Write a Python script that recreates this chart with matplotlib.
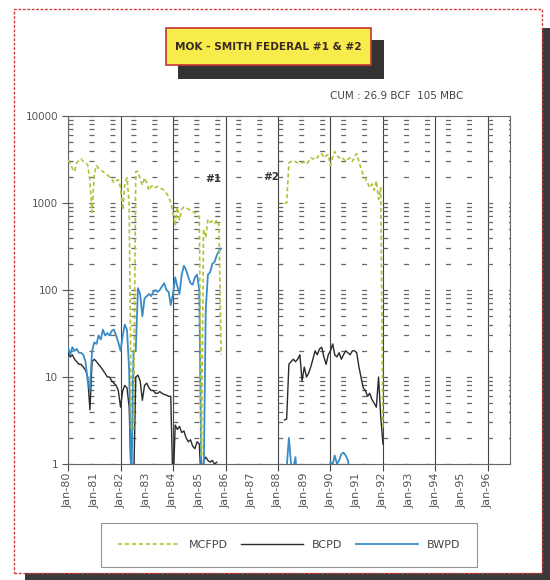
import numpy as np
import pandas as pd
import matplotlib
matplotlib.use("Agg")
import matplotlib.pyplot as plt
import matplotlib.dates as mdates
from matplotlib.patches import Rectangle
from matplotlib.ticker import LogLocator, FixedFormatter, FixedLocator, NullFormatter
import datetime as dt

plt.rcParams['font.family'] = ['DejaVu Sans']
plt.rcParams['lines.scale_dashes'] = False

# ---------------- data ----------------
well1_start = '1980-01-01'
mcfpd_1 = [3100, 2900, 2500, 2300, 2900, 3100, 3200, 3000, 2900, 2750,
           1800, 780, 2200, 2700, 2500, 2400, 2300, 2200, 2100, 2000,
           1900, 1700, 1800, 1850, 1500, 830, 1700, 1950, 1000, 2.5,
           2.5, 2300, 2300, 1900, 1600, 1950, 1700, 1400, 1550, 1600,
           1500, 1550, 1500, 1450, 1400, 1300, 1180, 1000, 770, 550,
           900, 640, 850, 900, 880, 850, 830, 800, 770, 720,
           700, 1.2, 500, 400, 650, 600, 620, 580, 640, 560, 18]
bcpd_1 = [19, 17, 18, 16, 15, 14, 14, 13, 12, 10,
          4.2, 15, 16, 15, 14, 13, 12, 11, 10, 10,
          9, 8.5, 8, 7, 4.5, 7, 8, 7.5, 4.5, 0.5,
          0.5, 10, 10.5, 9, 5.4, 8, 8.5, 7.5, 7, 7,
          6.5, 6.5, 6.8, 6.5, 6.3, 6.2, 6.0, 6.0, 0.5, 2.8,
          2.5, 2.7, 2.3, 2.4, 2.0, 1.8, 1.9, 1.6, 1.5, 1.8,
          1.7, 0.5, 1.1, 1.2, 1.1, 1.05, 1.1, 1.0, 1.05]
bwpd_1 = [22, 18, 22, 20, 21, 19, 19, 18, 15, 9,
          7, 20, 25, 24, 30, 27, 35, 30, 32, 30,
          34, 35, 30, 25, 20, 30, 40, 35, 12, 0.5,
          20, 20, 105, 90, 50, 80, 85, 90, 85, 95,
          100, 95, 100, 110, 120, 100, 95, 67, 90, 140,
          110, 90, 150, 190, 170, 140, 120, 115, 140, 150,
          100, 0.5, 0.5, 60, 150, 160, 200, 210, 250, 280, 300]

well2_start = '1988-04-01'
mcfpd_2 = [1000, 1000, 2900, 3000, 2950, 3000, 2900, 2950, 2900, 2950,
           2800, 3000, 3300, 3200, 3400, 3300, 3600, 3700, 3300, 3500,
           3600, 2700, 3400, 3900, 3500, 3300, 3400, 3200, 3000, 3200,
           3300, 3000, 3400, 3700, 3000, 2500, 2100, 1900, 1700, 1500,
           1650, 1400, 1800, 1100, 1500, 2.5]
bcpd_2 = [3.2, 3.3, 14, 15, 16, 15, 16, 18, 9, 13,
          10, 11, 13, 16, 20, 18, 21, 22, 17, 14,
          18, 20, 24, 18, 17, 19, 16, 18, 20, 19,
          18, 20, 20, 19, 13, 10, 7.5, 7, 6, 6.5,
          5.5, 5, 4.5, 10, 3.5, 1.7]
bwpd_2 = [0.5, 0.9, 2.0, 1.0, 0.9, 1.2, 0.5, np.nan, np.nan, np.nan,
          np.nan, np.nan, np.nan, np.nan, np.nan, np.nan, np.nan, np.nan, np.nan, np.nan,
          0.8, 1.05, 1.0, 1.25, 1.0, 1.1, 1.3, 1.35, 1.25, 1.1,
          0.7]

year_labels = ['Jan-80', 'Jan-81', 'Jan-82', 'Jan-83', 'Jan-84', 'Jan-85',
               'Jan-86', 'Jan-87', 'Jan-88', 'Jan-89', 'Jan-90', 'Jan-91',
               'Jan-92', 'Jan-93', 'Jan-94', 'Jan-95', 'Jan-96']
y_ticks = [1, 10, 100, 1000, 10000]
y_tick_labels = ['1', '10', '100', '1000', '10000']
series_names = ['MCFPD', 'BCPD', 'BWPD']
title_text = 'MOK - SMITH FEDERAL #1 & #2'
cum_text = 'CUM : 26.9 BCF  105 MBC'

# ---------------- figure ----------------
W, H = 550, 580
fig = plt.figure(figsize=(W / 100, H / 100), dpi=100)
fig.patch.set_facecolor('white')

def fx(px):
    return px / W

def fy(py):
    return 1 - py / H

# outer shadow and red dashed frame
fig.patches.append(Rectangle((fx(25), fy(580)), fx(525), 7 / H, transform=fig.transFigure,
                             facecolor='#3a3a3a', edgecolor='none', zorder=0))
fig.patches.append(Rectangle((fx(542), fy(580)), 8 / W, 552 / H, transform=fig.transFigure,
                             facecolor='#3a3a3a', edgecolor='none', zorder=0))
fig.patches.append(Rectangle((fx(14), fy(573)), 528 / W, 564 / H, transform=fig.transFigure,
                             facecolor='none', edgecolor='#d23c3c', linewidth=1.0,
                             linestyle=(0, (2, 1.2)), zorder=0.5))

# title box
fig.patches.append(Rectangle((fx(178), fy(79)), 206 / W, 39 / H, transform=fig.transFigure,
                             facecolor='#333333', edgecolor='none', zorder=1))
fig.patches.append(Rectangle((fx(166), fy(65)), 205 / W, 37 / H, transform=fig.transFigure,
                             facecolor='#f7ec4c', edgecolor='#c83232', linewidth=1.2, zorder=2))
fig.text(fx(268.5), fy(46.5), title_text, ha='center', va='center', fontsize=7.6,
         fontweight='bold', color='#3a2a22', zorder=3)
fig.text(fx(463), fy(96), cum_text, ha='right', va='center', fontsize=7.5, color='#444444')

ax = fig.add_axes([fx(68), fy(464), 442 / W, 348 / H])
ax.set_facecolor('white')

d1 = pd.date_range(well1_start, periods=len(mcfpd_1), freq='MS')
d1b = pd.date_range(well1_start, periods=len(bcpd_1), freq='MS')
d1w = pd.date_range(well1_start, periods=len(bwpd_1), freq='MS')
d2 = pd.date_range(well2_start, periods=len(mcfpd_2), freq='MS')
d2b = pd.date_range(well2_start, periods=len(bcpd_2), freq='MS')
d2w = pd.date_range(well2_start, periods=len(bwpd_2), freq='MS')

c_gas, c_oil, c_wat = '#b4c03a', '#2a2a2a', '#3a8cc6'
l_gas, = ax.plot(d1, mcfpd_1, color=c_gas, lw=1.2, ls=(0, (3, 2)), zorder=4)
ax.plot(d2, mcfpd_2, color=c_gas, lw=1.2, ls=(0, (3, 2)), zorder=4)
l_oil, = ax.plot(d1b, bcpd_1, color=c_oil, lw=1.0, zorder=3)
ax.plot(d2b, bcpd_2, color=c_oil, lw=1.0, zorder=3)
l_wat, = ax.plot(d1w, bwpd_1, color=c_wat, lw=1.3, zorder=3)
ax.plot(d2w, bwpd_2, color=c_wat, lw=1.3, zorder=3)

ax.set_yscale('log')
ax.set_ylim(1, 10000)
ax.set_xlim(dt.datetime(1980, 1, 1), dt.datetime(1996, 11, 3))

# y ticks
ax.yaxis.set_major_locator(FixedLocator(y_ticks))
ax.yaxis.set_major_formatter(FixedFormatter(y_tick_labels))
ax.yaxis.set_minor_locator(LogLocator(base=10, subs=np.arange(2, 10)))
ax.yaxis.set_minor_formatter(NullFormatter())
ax.tick_params(axis='y', which='major', length=4, width=0.8, color='#555555',
               labelsize=7.5, labelcolor='#555555', pad=3)
ax.tick_params(axis='y', which='minor', length=0)
ax.grid(True, axis='y', which='both', color='#666666', lw=0.9, ls=(0, (3.6, 11.5)))

# x ticks
ax.xaxis.remove_overlapping_locs = False
ax.xaxis.set_major_locator(mdates.YearLocator(1))
ax.xaxis.set_major_formatter(FixedFormatter(year_labels))
ax.xaxis.set_minor_locator(mdates.YearLocator(2))
ax.tick_params(axis='x', which='major', length=0, labelsize=8, labelcolor='#555555',
               labelrotation=90, pad=6)
ax.tick_params(axis='x', which='minor', length=5, width=0.8, color='#444444')
ax.grid(True, axis='x', which='minor', color='#444444', lw=0.8, ls='-')
ax.grid(False, axis='x', which='major')

for s in ax.spines.values():
    s.set_color('#666666')
    s.set_linewidth(0.8)

fig.text(fx(213), fy(179), '#1', ha='center', va='center', fontsize=7.5,
         fontweight='bold', color='#333333')
fig.text(fx(271), fy(177), '#2', ha='center', va='center', fontsize=7.5,
         fontweight='bold', color='#333333')

leg = fig.legend([l_gas, l_oil, l_wat], series_names, loc='center',
                 bbox_to_anchor=(fx(289), fy(545)), ncol=3, fontsize=8,
                 handlelength=5.6, handletextpad=0.8, columnspacing=1.2,
                 borderpad=1.5, frameon=True, fancybox=False, edgecolor='#777777')
leg.get_frame().set_linewidth(0.8)
for t in leg.get_texts():
    t.set_color('#444444')

fig.savefig('out.png', dpi=100, facecolor='white')
